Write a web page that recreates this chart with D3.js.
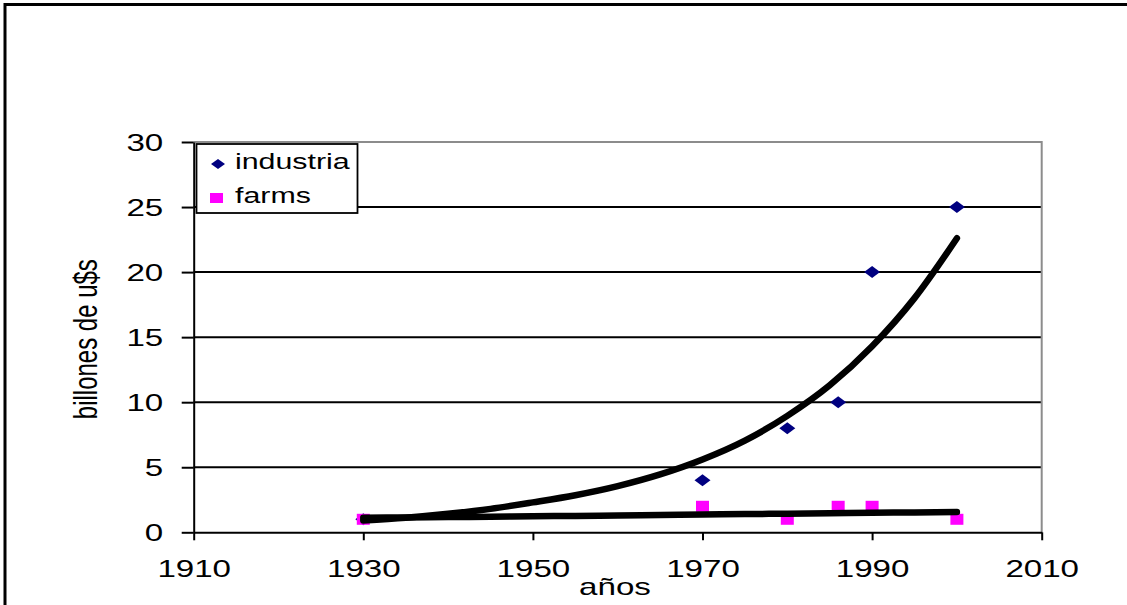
<!DOCTYPE html>
<html>
<head>
<meta charset="utf-8">
<script src="https://cdn.jsdelivr.net/npm/d3@7"></script>
<style>
  body { margin: 0; background: #fff; overflow: hidden; }
  svg { display: block; }
  text { font-family: "Liberation Sans", Arial, sans-serif; fill: #000; }
</style>
</head>
<body>
<script>
// datos
const anosIndustria = [1930, 1970, 1980, 1986, 1990, 2000];
const valoresIndustria = [1, 4, 8, 10, 20, 25];
const anosFarms = [1930, 1970, 1980, 1986, 1990, 2000];
const valoresFarms = [1, 2, 1, 2, 2, 1];

// lineas de tendencia
const anosTendencia = [1930, 1935, 1940, 1945, 1950, 1955, 1960, 1965, 1970, 1975, 1980, 1985, 1990, 1995, 2000];
const tendenciaIndustria = [0.9, 1.12, 1.42, 1.8, 2.3, 2.85, 3.55, 4.45, 5.6, 7.05, 8.95, 11.3, 14.3, 18.0, 22.6];
const tendenciaFarms = [1.12, 1.14, 1.17, 1.2, 1.23, 1.26, 1.29, 1.33, 1.37, 1.4, 1.43, 1.47, 1.5, 1.53, 1.56];

const ticksX = [1910, 1930, 1950, 1970, 1990, 2010];
const ticksY = [0, 5, 10, 15, 20, 25, 30];
const nombresSeries = ["industria", "farms"];

const ancho = 1127, alto = 605;
const estira = 1.38; // el texto del original esta estirado en horizontal

const svg = d3.select("body").append("svg")
    .attr("width", ancho)
    .attr("height", alto);

// marco exterior (solo se ven el borde de arriba y el de la izquierda)
svg.append("path")
    .attr("d", `M5,${alto + 10}V4.5H${ancho + 10}`)
    .attr("fill", "none")
    .attr("stroke", "#000")
    .attr("stroke-width", 3);

const x = d3.scaleLinear().domain([1910, 2010]).range([193.7, 1041.7]);
const y = d3.scaleLinear().domain([0, 30]).range([532.3, 142]);

// lineas de grilla
svg.append("g").selectAll("line")
    .data(ticksY.filter(d => d > 0 && d < 30))
    .join("line")
    .attr("x1", x(1910)).attr("x2", x(2010))
    .attr("y1", d => y(d)).attr("y2", d => y(d))
    .attr("stroke", "#000")
    .attr("stroke-width", 2);

// borde gris arriba y a la derecha
svg.append("path")
    .attr("d", `M${x(1910)},${y(30)}H${x(2010)}V${y(0)}`)
    .attr("fill", "none")
    .attr("stroke", "#8c8c8c")
    .attr("stroke-width", 2);

// eje Y
const ejeY = svg.append("g")
    .attr("transform", `translate(${x(1910)},0)`)
    .call(d3.axisLeft(y).tickValues(ticksY).tickSize(12).tickSizeOuter(0).tickPadding(0));
ejeY.select(".domain").attr("stroke", "#000").attr("stroke-width", 2);
ejeY.selectAll(".tick line").attr("stroke", "#000").attr("stroke-width", 2);
ejeY.selectAll(".tick text")
    .attr("font-size", 24)
    .attr("font-family", "Liberation Sans, Arial, sans-serif")
    .attr("x", -30.5 / estira)
    .attr("dy", "0.36em")
    .attr("transform", `scale(${estira},1)`);

// eje X
const ejeX = svg.append("g")
    .attr("transform", `translate(0,${y(0)})`)
    .call(d3.axisBottom(x).tickValues(ticksX).tickFormat(d3.format("d")).tickSize(8).tickSizeOuter(0).tickPadding(0));
ejeX.select(".domain").attr("stroke", "#000").attr("stroke-width", 2);
ejeX.selectAll(".tick line").attr("stroke", "#000").attr("stroke-width", 2);
ejeX.selectAll(".tick text")
    .attr("font-size", 24)
    .attr("font-family", "Liberation Sans, Arial, sans-serif")
    .attr("y", 45)
    .attr("dy", 0)
    .attr("transform", `scale(${estira},1)`);

// titulos de ejes
svg.append("text")
    .attr("transform", `translate(615,595) scale(${estira},1)`)
    .attr("text-anchor", "middle")
    .attr("font-size", 24)
    .text("años");

svg.append("text")
    .attr("transform", `translate(97,${(y(0) + y(30)) / 2 + 2}) scale(${estira},1) rotate(-90)`)
    .attr("text-anchor", "middle")
    .attr("font-size", 24)
    .text("billones de u$s");

// marcadores
const rombo = "M-8,0L0,-6L8,0L0,6Z";
const puntosIndustria = anosIndustria.map((a, i) => ({ ano: a, valor: valoresIndustria[i] }));
const puntosFarms = anosFarms.map((a, i) => ({ ano: a, valor: valoresFarms[i] }));

svg.append("g").selectAll("path")
    .data(puntosIndustria)
    .join("path")
    .attr("d", rombo)
    .attr("transform", d => `translate(${x(d.ano)},${y(d.valor)})`)
    .attr("fill", "#000080");

svg.append("g").selectAll("rect")
    .data(puntosFarms)
    .join("rect")
    .attr("x", d => x(d.ano) - 6.5)
    .attr("y", d => y(d.valor) - 5.5)
    .attr("width", 13)
    .attr("height", 11)
    .attr("fill", "#ff00ff");

// lineas de tendencia
const linea = d3.line()
    .x(d => x(d[0]))
    .y(d => y(d[1]))
    .curve(d3.curveMonotoneX);

[tendenciaIndustria, tendenciaFarms].forEach(serie => {
    svg.append("path")
        .datum(anosTendencia.map((a, i) => [a, serie[i]]))
        .attr("d", linea)
        .attr("fill", "none")
        .attr("stroke", "#000")
        .attr("stroke-width", 6.5)
        .attr("stroke-linecap", "round")
        .attr("stroke-linejoin", "round");
});

// leyenda
const leyenda = svg.append("g");
leyenda.append("rect")
    .attr("x", 196.5).attr("y", 144)
    .attr("width", 161).attr("height", 69)
    .attr("fill", "#fff")
    .attr("stroke", "#000")
    .attr("stroke-width", 1.8);

leyenda.append("path")
    .attr("d", "M-7,0L0,-5L7,0L0,5Z")
    .attr("transform", "translate(218,164)")
    .attr("fill", "#000080");
leyenda.append("rect")
    .attr("x", 210).attr("y", 193)
    .attr("width", 13).attr("height", 10)
    .attr("fill", "#ff00ff");

nombresSeries.forEach((nombre, i) => {
    leyenda.append("text")
        .attr("transform", `translate(235,${169 + i * 34}) scale(${estira},1)`)
        .attr("font-size", 22)
        .text(nombre);
});
</script>
</body>
</html>
